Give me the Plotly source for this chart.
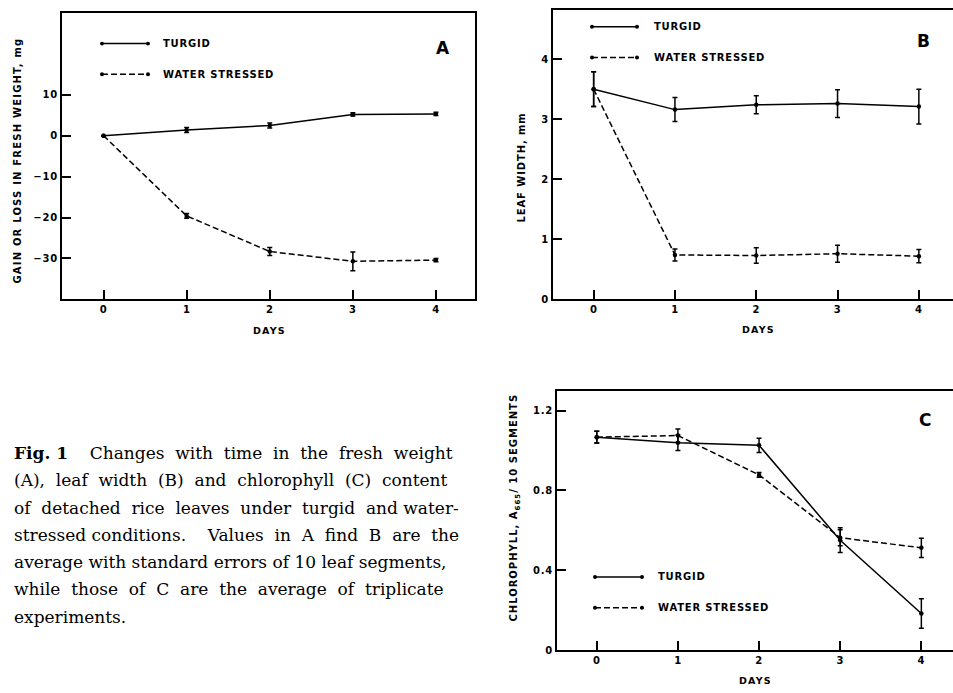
import plotly.graph_objects as go

W, H = 953, 693

days = [0, 1, 2, 3, 4]
day_labels = ["0", "1", "2", "3", "4"]

a_turgid = [0, 1.4, 2.5, 5.2, 5.3]
a_turgid_err = [0, 0.6, 0.6, 0.4, 0.4]
a_stressed = [0, -19.6, -28.3, -30.7, -30.4]
a_stressed_err = [0, 0.6, 1.0, 2.3, 0.4]
a_ticks = [10, 0, -10, -20, -30]
a_ticktext = ["10", "0", "\u221210", "\u221220", "\u221230"]

b_turgid = [3.50, 3.16, 3.24, 3.26, 3.21]
b_turgid_err = [0.29, 0.20, 0.15, 0.23, 0.29]
b_stressed = [3.50, 0.74, 0.73, 0.76, 0.72]
b_stressed_err = [0.29, 0.10, 0.13, 0.14, 0.11]
b_ticks = [0, 1, 2, 3, 4]
b_ticktext = ["0", "1", "2", "3", "4"]

c_turgid = [1.067, 1.039, 1.026, 0.551, 0.184]
c_turgid_err = [0.029, 0.039, 0.036, 0.062, 0.074]
c_stressed = [1.067, 1.075, 0.878, 0.564, 0.513]
c_stressed_err = [0.029, 0.033, 0.012, 0.04, 0.048]
c_ticks = [0, 0.4, 0.8, 1.2]
c_ticktext = ["0", "0.4", "0.8", "1.2"]

legend_names = ["TURGID", "WATER STRESSED"]

caption_lines = [
    "<b>Fig. 1</b>    Changes  with  time  in  the  fresh  weight",
    "(A),  leaf  width  (B)  and  chlorophyll  (C)  content",
    "of  detached  rice  leaves  under  turgid  and water-",
    "stressed conditions.    Values  in  A  find  B  are  the",
    "average with standard errors of 10 leaf segments,",
    "while  those  of  C  are  the  average  of  triplicate",
    "experiments.",
]

SANS = "DejaVu Sans"
SERIF = "DejaVu Serif"
DASH = "6px,3px"


def sp(s, ls=1.0):
    return '<span style="letter-spacing:%.1fpx">%s</span>' % (ls, s)


def px(x):
    return x / W


def py(y):
    return 1 - y / H


fig = go.Figure()


def add_series(x, y, err, xa, ya, dash):
    fig.add_trace(go.Scatter(
        x=x, y=y, mode="lines+markers", xaxis=xa, yaxis=ya,
        line=dict(color="black", width=1.5, dash=dash),
        marker=dict(color="black", size=4.5),
        error_y=dict(type="data", array=err, visible=True, color="black",
                     thickness=1.5, width=2.5),
        showlegend=False, hoverinfo="skip"))


add_series(days, a_turgid, a_turgid_err, "x", "y", "solid")
add_series(days, a_stressed, a_stressed_err, "x", "y", DASH)
add_series(days, b_turgid, b_turgid_err, "x2", "y2", "solid")
add_series(days, b_stressed, b_stressed_err, "x2", "y2", DASH)
add_series(days, c_turgid, c_turgid_err, "x3", "y3", "solid")
add_series(days, c_stressed, c_stressed_err, "x3", "y3", DASH)

tickfont = dict(family=SANS, size=10, color="black", weight="bold")
axis_common = dict(showgrid=False, zeroline=False, showline=True,
                   linecolor="black", linewidth=2, ticks="inside",
                   ticklen=9, tickwidth=1.5, tickcolor="black",
                   tickfont=tickfont, fixedrange=True)

xt = [sp(t, 0.5) for t in day_labels]

fig.update_layout(
    width=W, height=H,
    margin=dict(l=0, r=0, t=0, b=0),
    paper_bgcolor="white", plot_bgcolor="white",
    xaxis=dict(axis_common, domain=[px(62), px(475)], range=[-0.5, 4.47],
               tickvals=days, ticktext=xt, mirror=True, anchor="y"),
    yaxis=dict(axis_common, domain=[py(302), py(13)], range=[-40, 30],
               tickvals=a_ticks, ticktext=[sp(t, 0.8) for t in a_ticktext],
               mirror=True, anchor="x"),
    xaxis2=dict(axis_common, domain=[px(553), 1.0], range=[-0.5, 4.42],
                tickvals=days, ticktext=xt, mirror=True, anchor="y2"),
    yaxis2=dict(axis_common, domain=[py(302), py(10)], range=[0, 4.82],
                tickvals=b_ticks, ticktext=[sp(t, 0.8) for t in b_ticktext],
                mirror=False, anchor="x2"),
    xaxis3=dict(axis_common, domain=[px(557), 1.0], range=[-0.49, 4.39],
                tickvals=days, ticktext=xt, mirror=True, anchor="y3"),
    yaxis3=dict(axis_common, domain=[py(656), py(394)], range=[0, 1.3],
                tickvals=c_ticks, ticktext=[sp(t, 0.8) for t in c_ticktext],
                mirror=False, anchor="x3"),
)

annotations = []
shapes = []


def text(x, y, s, size=10, angle=0, xanchor="center", family=SANS, weight="bold"):
    annotations.append(dict(x=px(x), y=py(y), xref="paper", yref="paper", text=s,
                            showarrow=False, textangle=angle, xanchor=xanchor,
                            yanchor="middle",
                            font=dict(family=family, size=size, color="black", weight=weight)))


def legend(x0, x1, ys, tx):
    for y, name, dash in zip(ys, legend_names, ["solid", "dash"]):
        shapes.append(dict(type="line", xref="paper", yref="paper",
                           x0=px(x0), x1=px(x1), y0=py(y), y1=py(y),
                           line=dict(color="black", width=1.5,
                                     dash="solid" if dash == "solid" else DASH)))
        for xx in (x0, x1):
            shapes.append(dict(type="circle", xref="paper", yref="paper",
                               x0=px(xx - 2), x1=px(xx + 2), y0=py(y + 2), y1=py(y - 2),
                               fillcolor="black", line=dict(color="black", width=0)))
        text(tx, y, sp(name, 0.8), size=10, xanchor="left")


# Panel A
legend(102, 148, [44, 75], 161)
text(443, 48, "A", size=17)
text(18, 162, sp("GAIN OR LOSS IN FRESH WEIGHT, mg", 1.2), size=10, angle=-90)
text(269, 333, sp("DAYS", 1.2), size=9.5)

# Panel B
legend(592, 637, [27, 58], 652)
text(923, 41, "B", size=17)
text(522, 169, sp("LEAF WIDTH, mm", 0.9), size=10, angle=-90)
text(758, 332, sp("DAYS", 1.2), size=9.5)

# Panel C
legend(595, 642, [582, 613], 656)
text(925, 424, "C", size=17)
text(515, 512, sp("CHLOROPHYLL, A<sub>665</sub>/ 10 SEGMENTS", 1.0), size=10, angle=-90)
text(755, 686, sp("DAYS", 1.2), size=9.5)

# Caption
for i, line in enumerate(caption_lines):
    text(12, 457 + i * 27.5, line, size=17, xanchor="left", family=SERIF, weight="normal")

fig.update_layout(annotations=annotations, shapes=shapes)

fig.write_html("out.html")
